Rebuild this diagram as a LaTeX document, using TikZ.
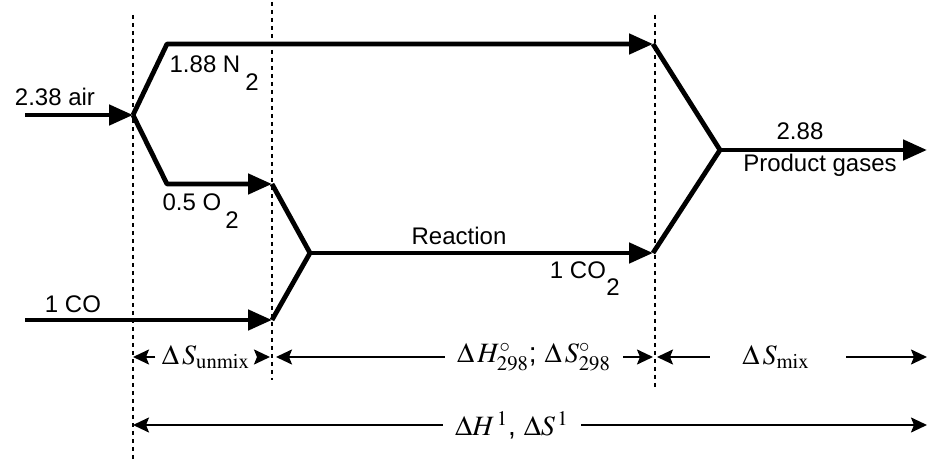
\documentclass[tikz,border=0pt]{standalone}
\usepackage{mathptmx}
\usepackage[no-math]{fontspec}
\setmainfont{Liberation Sans}
\usetikzlibrary{arrows.meta, positioning, calc}

\begin{document}
\begin{tikzpicture}[x=0.5pt, y=-0.5pt,
    flow/.style={line width=2.4pt, line join=round, -{Triangle[length=12pt, width=10pt]}},
    pipe/.style={line width=2.4pt, line join=round},
    dimarrow/.style={line width=1pt, -{Stealth[length=8pt, width=7.5pt, inset=1.5pt]}},
    guide/.style={line width=0.8pt, dash pattern=on 2pt off 2pt},
    lbl/.style={font=\fontsize{12}{14}\selectfont, inner sep=0pt},
    mlbl/.style={font=\fontsize{14}{16}\selectfont, inner sep=0pt}
  ]
  \useasboundingbox (0,0) rectangle (928,460);

  % stage boundaries
  \coordinate (g1top) at (133,15);  \coordinate (g1bot) at (133,460);
  \coordinate (g2top) at (272,2);   \coordinate (g2bot) at (272,380);
  \coordinate (g3top) at (655,15);  \coordinate (g3bot) at (655,390);
  \draw[guide] (g1top) -- (g1bot);
  \draw[guide] (g2top) -- (g2bot);
  \draw[guide] (g3top) -- (g3bot);

  % stream junctions
  \coordinate (airIn) at (25,115);
  \coordinate (split) at (133,115);
  \coordinate (n2Top) at (167,44);
  \coordinate (n2End) at (653,44);
  \coordinate (o2Low) at (167,184);
  \coordinate (o2End) at (272,184);
  \coordinate (coIn) at (25,320);
  \coordinate (coEnd) at (272,320);
  \coordinate (react) at (310,253);
  \coordinate (co2End) at (653,253);
  \coordinate (mix) at (720,150);
  \coordinate (prodEnd) at (927,150);

  \draw[flow] (airIn) -- (split);
  \draw[flow] (split) -- (n2Top) -- (n2End);
  \draw[flow] (split) -- (o2Low) -- (o2End);
  \draw[flow] (coIn) -- (coEnd);
  \draw[pipe] (o2End) -- (react) -- (coEnd);
  \draw[flow] (react) -- (co2End);
  \draw[pipe] (n2End) -- (mix) -- (co2End);
  \draw[flow] (mix) -- (prodEnd);

  % stream labels
  \node[lbl] (air) at (55,97) {2.38 air};
  \node[lbl] (n2) at (205,64) {1.88 N};
  \node[lbl] (n2sub) at (252,82) {2};
  \node[lbl] (o2) at (192,202) {0.5 O};
  \node[lbl] (o2sub) at (232,220) {2};
  \node[lbl] (co) at (73,304) {1 CO};
  \node[lbl] (reaction) at (459,236) {Reaction};
  \node[lbl] (co2) at (578,270) {1 CO};
  \node[lbl] (co2sub) at (613,287) {2};
  \node[lbl] (prodAmt) at (800,131) {2.88};
  \node[lbl] (prod) at (820,165) {Product gases};

  % step quantities
  \node[mlbl] (unmix) at (206,357) {$\Delta\,S_{\mathrm{unmix}}$};
  \node[mlbl] (react298) at (534,357) {$\Delta\,H^{\circ}_{298}$; $\Delta\,S^{\circ}_{298}$};
  \node[mlbl] (mixing) at (776,357) {$\Delta\,S_{\mathrm{mix}}$};
  \node[mlbl] (overall) at (512,425) {$\Delta H^{\,1}$, $\Delta S^{\,1}$};

  \draw[dimarrow] ([xshift=-3pt]unmix.west) -- (unmix.west -| g1top);
  \draw[dimarrow] ([xshift=3pt]unmix.east) -- ([xshift=-1pt]unmix.east -| g2top);
  \draw[dimarrow] ([xshift=-6pt]react298.west) -- ([xshift=2pt]react298.west -| g2top);
  \draw[dimarrow] ([xshift=6pt]react298.east) -- ([xshift=-1pt]react298.east -| g3top);
  \draw[dimarrow] ([xshift=-16pt]mixing.west) -- ([xshift=1pt]mixing.west -| g3top);
  \draw[dimarrow] ([xshift=18pt]mixing.east) -- (mixing.east -| prodEnd);
  \draw[dimarrow] ([xshift=-6pt]overall.west) -- (overall.west -| g1top);
  \draw[dimarrow] ([xshift=6pt]overall.east) -- (overall.east -| prodEnd);
\end{tikzpicture}
\end{document}
